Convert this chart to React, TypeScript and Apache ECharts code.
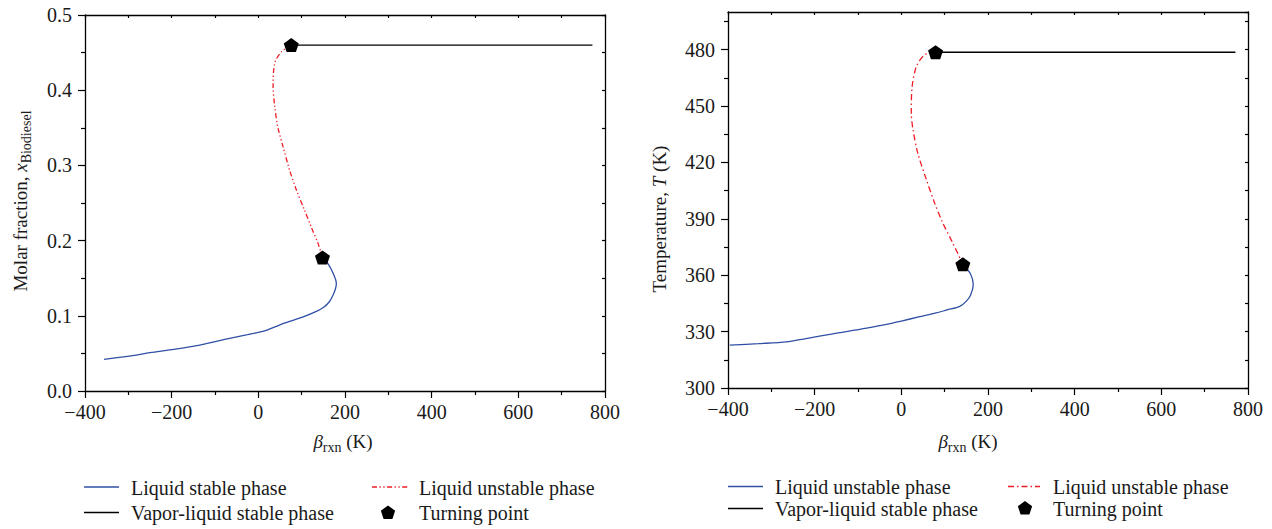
import { useEffect, useRef } from "react";
import * as echarts from "echarts";

const FONT = "'Liberation Serif', 'DejaVu Serif', serif";
const BLUE = "#3050a6";
const RED = "#ee1c25";
const INK = "#1a1a1a";

// ---- Data ----
const xTicks = [-400, -200, 0, 200, 400, 600, 800];

// Left panel: molar fraction vs beta_rxn
const leftLiquidStable: number[][] = [
  [-356, 0.042], [-290, 0.047], [-250, 0.051], [-200, 0.055], [-135, 0.061],
  [-97, 0.066], [-58, 0.071], [-25, 0.075], [0, 0.078], [20, 0.081],
  [50, 0.088], [80, 0.094], [105, 0.099], [134, 0.106], [150, 0.111],
  [163, 0.118], [172, 0.127], [178, 0.136], [180, 0.143], [173, 0.156],
  [161, 0.169], [148, 0.1775],
];
const leftLiquidUnstable: number[][] = [
  [76, 0.46], [53, 0.451], [38, 0.436], [34, 0.405], [38, 0.378], [45, 0.351],
  [57, 0.325], [72, 0.294], [88, 0.267], [107, 0.24], [122, 0.218],
  [138, 0.196], [148, 0.1775],
];
const leftVaporLiquid: number[][] = [[76, 0.46], [771, 0.46]];
const leftTurning: number[][] = [[76, 0.46], [148, 0.1775]];

// Right panel: temperature vs beta_rxn
const rightLiquidBlue: number[][] = [
  [-396, 322.8], [-330, 323.6], [-265, 324.5], [-220, 326.3], [-158, 328.8],
  [-80, 331.8], [-20, 334.5], [0, 335.6], [40, 337.8], [80, 339.9],
  [105, 341.5], [135, 343.4], [150, 346.2], [160, 349.5], [166, 355],
  [160, 360.5], [142, 365.8],
];
const rightLiquidRed: number[][] = [
  [79, 478.6], [54, 477.3], [35, 471.1], [25, 460.4], [23, 446.3], [27, 437.4],
  [38, 424.9], [58, 410.7], [77, 398.3], [96, 387.6], [119, 377], [142, 365.8],
];
const rightVaporLiquid: number[][] = [[79, 478.6], [771, 478.6]];
const rightTurning: number[][] = [[79, 478.6], [142, 365.8]];
const rightYMajor = [300, 330, 360, 390, 420, 450, 480];
const rightYMinor = [315, 345, 375, 405, 435, 465, 495];

const PENTAGON = "path://M50 0 L97.55 34.55 L79.39 90.45 L20.61 90.45 L2.45 34.55 Z";

const fmtX = (v: number) => (v < 0 ? "\u2212" + Math.abs(v) : String(v));

const lineCol = { color: "#000", width: 1.3 };
const tickCol = { color: "#000", width: 1.2 };
const labelStyle = { fontFamily: FONT, fontSize: 20, color: INK };

function bottomX(gridIndex: number) {
  return {
    type: "value", gridIndex, position: "bottom", min: xTicks[0], max: xTicks[xTicks.length - 1], interval: 200,
    axisLine: { show: true, onZero: false, lineStyle: lineCol },
    axisTick: { show: true, inside: false, length: 7, lineStyle: tickCol },
    minorTick: { show: true, splitNumber: 2, length: 4, lineStyle: tickCol },
    splitLine: { show: false }, minorSplitLine: { show: false },
    axisLabel: { ...labelStyle, margin: 11, formatter: fmtX },
  };
}
function topX(gridIndex: number) {
  return {
    type: "value", gridIndex, position: "top", min: xTicks[0], max: xTicks[xTicks.length - 1], interval: 100,
    axisLine: { show: true, onZero: false, lineStyle: lineCol },
    axisTick: { show: true, inside: true, length: 3, lineStyle: tickCol },
    axisLabel: { show: false }, splitLine: { show: false },
  };
}

function pentagonPoints(cx: number, cy: number, r: number) {
  const pts: number[][] = [];
  for (let i = 0; i < 5; i++) {
    const a = -Math.PI / 2 + (i * 2 * Math.PI) / 5;
    pts.push([cx + r * Math.cos(a), cy + r * Math.sin(a)]);
  }
  return pts;
}

const rich = {
  n: { fontFamily: FONT, fontSize: 19, lineHeight: 26, fill: INK },
  i: { fontFamily: FONT, fontSize: 19, fontStyle: "italic", lineHeight: 26, fill: INK },
  s: { fontFamily: FONT, fontSize: 14, lineHeight: 26, verticalAlign: "bottom", fill: INK },
};

function title(text: string, x: number, y: number, rotation = 0) {
  return {
    type: "text", x, y, rotation,
    style: { text, align: "center", verticalAlign: "middle", fontFamily: FONT, fontSize: 19, fill: INK, rich },
  };
}
function legendText(text: string, x: number, y: number) {
  return {
    type: "text", x, y,
    style: { text, align: "left", verticalAlign: "middle", fontFamily: FONT, fontSize: 20, fill: INK },
  };
}
function legendLine(x1: number, x2: number, y: number, stroke: string, dash?: number[]) {
  return {
    type: "line", shape: { x1, y1: y, x2, y2: y },
    style: { stroke, lineWidth: 1.3, lineDash: dash },
  };
}
function legendPent(cx: number, cy: number) {
  return { type: "polygon", shape: { points: pentagonPoints(cx, cy, 7.5) }, style: { fill: "#000" } };
}

const leftDash = [5, 2.5, 1.3, 2.5, 1.3, 2.5];
const rightDash = [6, 3, 1.5, 3];

const option = {
  animation: false,
  backgroundColor: "#fff",
  grid: [
    { left: 85, top: 15, width: 520, height: 376, containLabel: false },
    { left: 728, top: 12, width: 520, height: 376, containLabel: false },
  ],
  xAxis: [bottomX(0), topX(0), bottomX(1), topX(1)],
  yAxis: [
    {
      type: "value", gridIndex: 0, position: "left", min: 0, max: 0.5, interval: 0.1,
      axisLine: { show: true, onZero: false, lineStyle: lineCol },
      axisTick: { show: true, length: 7, lineStyle: tickCol },
      minorTick: { show: true, splitNumber: 2, length: 4, lineStyle: tickCol },
      splitLine: { show: false }, minorSplitLine: { show: false },
      axisLabel: { ...labelStyle, margin: 13, formatter: (v: number) => v.toFixed(1) },
    },
    {
      type: "value", gridIndex: 0, position: "right", min: 0, max: 0.5, interval: 0.05,
      axisLine: { show: true, onZero: false, lineStyle: lineCol },
      axisTick: { show: true, inside: true, length: 3, lineStyle: tickCol },
      axisLabel: { show: false }, splitLine: { show: false },
    },
    {
      type: "value", gridIndex: 1, position: "left", min: 300, max: 500, interval: 30,
      axisLine: { show: true, onZero: false, lineStyle: lineCol },
      axisTick: { show: true, length: 7, lineStyle: tickCol, customValues: rightYMajor },
      splitLine: { show: false },
      axisLabel: { ...labelStyle, margin: 13, customValues: rightYMajor },
    },
    {
      type: "value", gridIndex: 1, position: "right", min: 300, max: 500, interval: 15,
      axisLine: { show: true, onZero: false, lineStyle: lineCol },
      axisTick: { show: true, inside: true, length: 3, lineStyle: tickCol },
      axisLabel: { show: false }, splitLine: { show: false },
    },
    {
      type: "value", gridIndex: 1, position: "left", min: 300, max: 500, interval: 15,
      axisLine: { show: false, onZero: false },
      axisTick: { show: true, length: 4, lineStyle: tickCol, customValues: rightYMinor },
      axisLabel: { show: false, customValues: rightYMinor }, splitLine: { show: false },
    },
  ],
  series: [
    {
      name: "Liquid stable phase", type: "line", xAxisIndex: 0, yAxisIndex: 0,
      data: leftLiquidStable, showSymbol: false, smooth: 0.3,
      lineStyle: { color: BLUE, width: 1.3 }, itemStyle: { color: BLUE },
    },
    {
      name: "Liquid unstable phase", type: "line", xAxisIndex: 0, yAxisIndex: 0,
      data: leftLiquidUnstable, showSymbol: false, smooth: 0.3,
      lineStyle: { color: RED, width: 1.3, type: leftDash }, itemStyle: { color: RED },
    },
    {
      name: "Vapor-liquid stable phase", type: "line", xAxisIndex: 0, yAxisIndex: 0,
      data: leftVaporLiquid, showSymbol: false,
      lineStyle: { color: "#000", width: 1.3 }, itemStyle: { color: "#000" },
    },
    {
      name: "Turning point", type: "scatter", xAxisIndex: 0, yAxisIndex: 0,
      data: leftTurning, symbol: PENTAGON, symbolSize: [15, 14], z: 5,
      itemStyle: { color: "#000", opacity: 1 },
    },
    {
      name: "Liquid unstable phase (T)", type: "line", xAxisIndex: 2, yAxisIndex: 2,
      data: rightLiquidBlue, showSymbol: false, smooth: 0.3,
      lineStyle: { color: BLUE, width: 1.3 }, itemStyle: { color: BLUE },
    },
    {
      name: "Liquid unstable phase (T, red)", type: "line", xAxisIndex: 2, yAxisIndex: 2,
      data: rightLiquidRed, showSymbol: false, smooth: 0.3,
      lineStyle: { color: RED, width: 1.3, type: rightDash }, itemStyle: { color: RED },
    },
    {
      name: "Vapor-liquid stable phase (T)", type: "line", xAxisIndex: 2, yAxisIndex: 2,
      data: rightVaporLiquid, showSymbol: false,
      lineStyle: { color: "#000", width: 1.3 }, itemStyle: { color: "#000" },
    },
    {
      name: "Turning point (T)", type: "scatter", xAxisIndex: 2, yAxisIndex: 2,
      data: rightTurning, symbol: PENTAGON, symbolSize: [15, 14], z: 5,
      itemStyle: { color: "#000", opacity: 1 },
    },
  ],
  graphic: [
    title("{n|Molar fraction, }{i|x}{s|Biodiesel}", 20, 201, Math.PI / 2),
    title("{n|Temperature, }{i|T}{n| (K)}", 659, 219, Math.PI / 2),
    title("{i|\u03b2}{s|rxn}{n| (K)}", 343, 441),
    title("{i|\u03b2}{s|rxn}{n| (K)}", 968, 441),
    legendLine(84, 119, 487, BLUE),
    legendText("Liquid stable phase", 131, 488),
    legendLine(84, 119, 512.5, "#000"),
    legendText("Vapor-liquid stable phase", 131, 513),
    legendLine(372, 408, 487, RED, leftDash),
    legendText("Liquid unstable phase", 419, 488),
    legendPent(388, 513),
    legendText("Turning point", 419, 513),
    legendLine(728, 763, 486.5, BLUE),
    legendText("Liquid unstable phase", 775, 487),
    legendLine(728, 763, 508.5, "#000"),
    legendText("Vapor-liquid stable phase", 775, 509),
    legendLine(1008, 1040, 486.5, RED, rightDash),
    legendText("Liquid unstable phase", 1053, 487),
    legendPent(1025, 508.5),
    legendText("Turning point", 1053, 509),
  ],
};

export default function App() {
  const ref = useRef<HTMLDivElement>(null);
  useEffect(() => {
    const chart = echarts.init(ref.current!, null, { renderer: "svg" });
    chart.setOption(option as any);
    return () => chart.dispose();
  }, []);
  return (
    <div
      ref={ref}
      style={{ position: "fixed", left: 0, top: 0, width: 1272, height: 529, background: "#fff" }}
    />
  );
}
